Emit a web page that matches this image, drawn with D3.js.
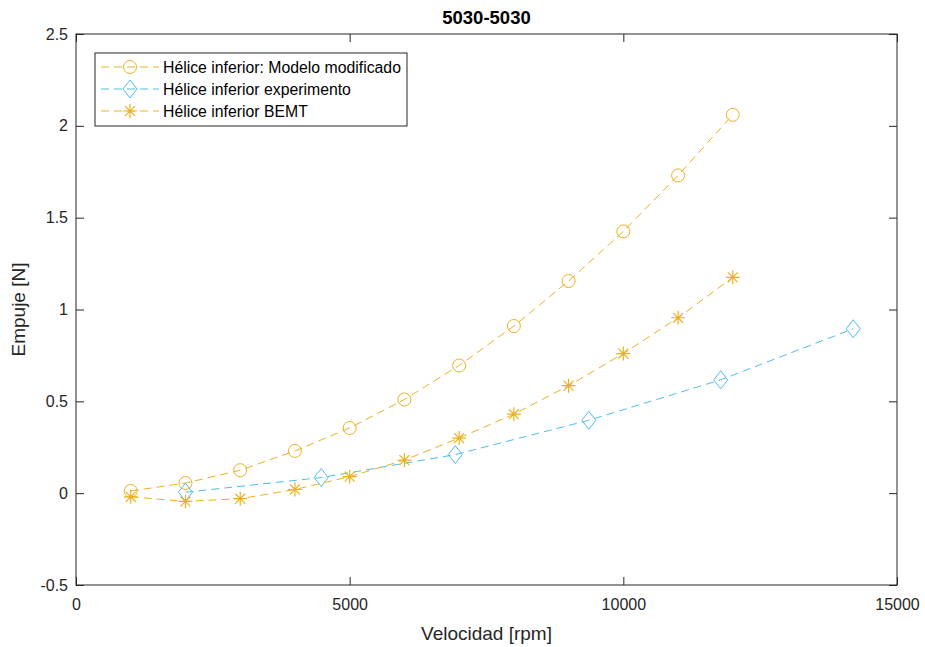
<!DOCTYPE html>
<html><head><meta charset="utf-8">
<script src="https://cdn.jsdelivr.net/npm/d3@7"></script>
<style>body{margin:0;background:#fff}svg{font-family:"Liberation Sans",Arial,sans-serif}</style>
</head><body><svg id="c" width="925" height="647"></svg>
<script>
const title = "5030-5030";
const xLabel = "Velocidad [rpm]";
const yLabel = "Empuje [N]";
const xTicks = [0, 5000, 10000, 15000];
const yTicks = [-0.5, 0, 0.5, 1, 1.5, 2, 2.5];
const seriesNames = ["Hélice inferior: Modelo modificado", "Hélice inferior experimento", "Hélice inferior BEMT"];
const modeloX = [1000,2000,3000,4000,5000,6000,7000,8000,9000,10000,11000,12000];
const modeloY = [0.012,0.055,0.125,0.23,0.355,0.51,0.695,0.91,1.155,1.425,1.73,2.06];
const expX = [2000,4480,6930,9370,11780,14200];
const expY = [0.005,0.085,0.21,0.397,0.617,0.895];
const bemtX = [1000,2000,3000,4000,5000,6000,7000,8000,9000,10000,11000,12000];
const bemtY = [-0.02,-0.045,-0.03,0.02,0.09,0.18,0.30,0.43,0.585,0.76,0.955,1.175];

const orange = "#EDB120", blue = "#4DBEEE";
const L = 76, R = 897, T = 34, B = 585;
const svg = d3.select("#c");
const x = d3.scaleLinear().domain([0,15000]).range([L,R]);
const y = d3.scaleLinear().domain([-0.5,2.5]).range([B,T]);

const tk = 8;
const gx = svg.append("g").attr("transform",`translate(0,${B})`)
  .call(d3.axisBottom(x).tickValues(xTicks).tickSize(-tk).tickPadding(14).tickFormat(d3.format("d")));
const gxt = svg.append("g").attr("transform",`translate(0,${T})`)
  .call(d3.axisTop(x).tickValues(xTicks).tickSize(-tk).tickFormat(""));
const gy = svg.append("g").attr("transform",`translate(${L},0)`)
  .call(d3.axisLeft(y).tickValues(yTicks).tickSize(-tk).tickPadding(8).tickFormat(d=>String(d)));
const gyr = svg.append("g").attr("transform",`translate(${R},0)`)
  .call(d3.axisRight(y).tickValues(yTicks).tickSize(-tk).tickFormat(""));
[gx,gxt,gy,gyr].forEach(g=>{
  g.select(".domain").remove();
  g.selectAll("line").attr("stroke","#262626").attr("stroke-width",1);
  g.selectAll("text").attr("fill","#262626").attr("font-size",16).attr("font-family","'Liberation Sans',Arial,sans-serif");
});
svg.append("rect").attr("x",L).attr("y",T).attr("width",R-L).attr("height",B-T)
  .attr("fill","none").attr("stroke","#262626").attr("stroke-width",1);

svg.append("text").attr("x",(L+R)/2).attr("y",24).attr("text-anchor","middle")
  .attr("font-size",18.5).attr("font-weight","bold").attr("fill","#000").text(title);
svg.append("text").attr("x",(L+R)/2).attr("y",640).attr("text-anchor","middle")
  .attr("font-size",19).attr("fill","#262626").text(xLabel);
svg.append("text").attr("transform",`translate(25,${(T+B)/2}) rotate(-90)`).attr("text-anchor","middle")
  .attr("font-size",19).attr("fill","#262626").text(yLabel);

function marker(g, type, color, cx, cy){
  if(type==="o"){
    g.append("circle").attr("cx",cx).attr("cy",cy).attr("r",6.5).attr("fill","none").attr("stroke",color).attr("stroke-width",1);
  } else if(type==="d"){
    g.append("path").attr("d",`M${cx},${cy-9}L${cx+7},${cy}L${cx},${cy+9}L${cx-7},${cy}Z`).attr("fill","none").attr("stroke",color).attr("stroke-width",1);
  } else {
    const r=7, d=r*0.7071;
    g.append("path").attr("d",`M${cx-r},${cy}L${cx+r},${cy}M${cx},${cy-r}L${cx},${cy+r}M${cx-d},${cy-d}L${cx+d},${cy+d}M${cx-d},${cy+d}L${cx+d},${cy-d}`)
      .attr("stroke",color).attr("stroke-width",1.2);
  }
}
const series = [
  {xs:modeloX, ys:modeloY, color:orange, m:"o"},
  {xs:expX, ys:expY, color:blue, m:"d"},
  {xs:bemtX, ys:bemtY, color:orange, m:"*"}
];
const line = d3.line().x(d=>x(d[0])).y(d=>y(d[1]));
series.forEach(s=>{
  const pts = s.xs.map((v,i)=>[v,s.ys[i]]);
  svg.append("path").attr("d",line(pts)).attr("fill","none").attr("stroke",s.color)
    .attr("stroke-width",1).attr("stroke-dasharray","8,5");
  const g = svg.append("g");
  pts.forEach(p=>marker(g,s.m,s.color,x(p[0]),y(p[1])));
});

const lg = svg.append("g");
lg.append("rect").attr("x",95).attr("y",53).attr("width",312).attr("height",73)
  .attr("fill","#fff").attr("stroke","#262626").attr("stroke-width",1);
series.forEach((s,i)=>{
  const yy = 67 + i*22;
  lg.append("line").attr("x1",101).attr("x2",159).attr("y1",yy).attr("y2",yy)
    .attr("stroke",s.color).attr("stroke-width",1).attr("stroke-dasharray","8,5");
  marker(lg,s.m,s.color,130,yy);
  lg.append("text").attr("x",163).attr("y",yy+5.5).attr("font-size",15.8).attr("fill","#000").text(seriesNames[i]);
});
</script></body></html>
